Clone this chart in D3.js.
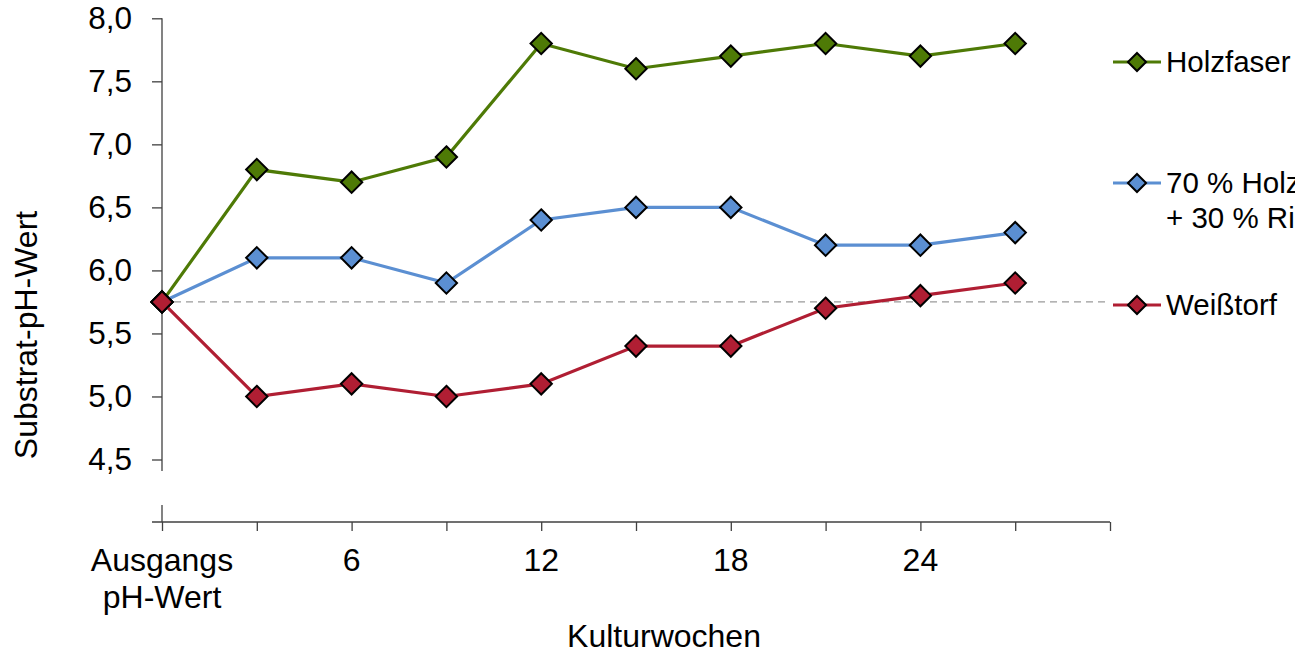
<!DOCTYPE html>
<html lang="de">
<head>
<meta charset="utf-8">
<script src="https://cdn.jsdelivr.net/npm/d3@7"></script>
<style>
  html, body { margin: 0; padding: 0; background: #fff; overflow: hidden; }
  svg { display: block; font-family: "Liberation Sans", Arial, sans-serif; }
</style>
</head>
<body>
<svg id="chart" width="1295" height="653"></svg>
<script>
// Substrate pH over the cultivation weeks
const weeks = [0, 3, 6, 9, 12, 15, 18, 21, 24, 27];
const holzfaser = [5.75, 6.8, 6.7, 6.9, 7.8, 7.6, 7.7, 7.8, 7.7, 7.8];
const mischung = [5.75, 6.1, 6.1, 5.9, 6.4, 6.5, 6.5, 6.2, 6.2, 6.3];
const weisstorf = [5.75, 5.0, 5.1, 5.0, 5.1, 5.4, 5.4, 5.7, 5.8, 5.9];
const startPH = 5.75;

const seriesNames = [["Holzfaser"], ["70 % Holzfaser", "+ 30 % Rindenhumus"], ["Weißtorf"]];
const seriesColors = ["#4e7a06", "#5b8fd2", "#b01e33"];

const yTicks = [4.5, 5.0, 5.5, 6.0, 6.5, 7.0, 7.5, 8.0];
const xTicks = [0, 3, 6, 9, 12, 15, 18, 21, 24, 27, 30];
const xLabelWeeks = [0, 6, 12, 18, 24];
const xLabelTexts = [["Ausgangs", "pH-Wert"], ["6"], ["12"], ["18"], ["24"]];

const series = [holzfaser, mischung, weisstorf].map((vals, i) => ({
  name: seriesNames[i],
  color: seriesColors[i],
  points: vals.map((v, j) => ({ week: weeks[j], value: v }))
}));

const svg = d3.select("#chart");
const axisColor = "#404040";

const x = d3.scaleLinear().domain([0, 30]).range([162, 1110]);
const y = d3.scaleLinear().domain([4.5, 8.0]).range([459.5, 18.3]);
const xAxisY = 522;

// y axis (upper part, with break below 4,5)
const yAxis = d3.axisLeft(y)
  .tickValues(yTicks)
  .tickSize(10)
  .tickPadding(20)
  .tickFormat(d => d3.format(".1f")(d).replace(".", ","));

const gy = svg.append("g").attr("transform", `translate(${x(0)},0)`).call(yAxis);
gy.select(".domain").remove();
gy.selectAll(".tick line").attr("stroke", axisColor).attr("stroke-width", 1.3);
gy.selectAll(".tick text").attr("fill", "#000").style("font-size", "31.5px").style("font-family", "Liberation Sans, Arial, sans-serif");
gy.append("line")
  .attr("x1", 0).attr("x2", 0)
  .attr("y1", y(8.0)).attr("y2", 471)
  .attr("stroke", axisColor).attr("stroke-width", 1.3);
gy.append("line")
  .attr("x1", 0).attr("x2", 0)
  .attr("y1", 505).attr("y2", xAxisY)
  .attr("stroke", axisColor).attr("stroke-width", 1.3);

// x axis
const xAxis = d3.axisBottom(x)
  .tickValues(xTicks)
  .tickSize(9)
  .tickFormat("");

const gx = svg.append("g").attr("transform", `translate(0,${xAxisY})`).call(xAxis);
gx.select(".domain").remove();
gx.selectAll(".tick line").attr("stroke", axisColor).attr("stroke-width", 1.3);
gx.append("line")
  .attr("x1", x(0) - 10).attr("x2", x(30))
  .attr("y1", 0).attr("y2", 0)
  .attr("stroke", axisColor).attr("stroke-width", 1.5);

const xl = svg.append("g").selectAll("text")
  .data(xLabelWeeks.map((w, i) => ({ w, lines: xLabelTexts[i] })))
  .join("text")
  .attr("x", d => x(d.w))
  .attr("y", 571)
  .attr("text-anchor", "middle")
  .style("font-size", "32px")
  .attr("fill", "#000");
xl.selectAll("tspan")
  .data(d => d.lines.map(t => ({ t, x: x(d.w) })))
  .join("tspan")
  .attr("x", d => d.x)
  .attr("dy", (d, i) => i === 0 ? 0 : 37)
  .text(d => d.t);

// axis titles
svg.append("text")
  .attr("x", 664).attr("y", 647)
  .attr("text-anchor", "middle")
  .style("font-size", "32px")
  .attr("fill", "#000")
  .text("Kulturwochen");

svg.append("text")
  .attr("transform", `translate(37,335) rotate(-90)`)
  .attr("text-anchor", "middle")
  .style("font-size", "32px")
  .attr("fill", "#000")
  .text("Substrat-pH-Wert");

// reference line: initial pH
svg.append("line")
  .attr("x1", x(0)).attr("x2", x(30))
  .attr("y1", y(startPH)).attr("y2", y(startPH))
  .attr("stroke", "#9a9a9a")
  .attr("stroke-width", 1.3)
  .attr("stroke-dasharray", "7,5");

// series lines and markers
const line = d3.line().x(d => x(d.week)).y(d => y(d.value));
const diamond = d3.symbol().type(d3.symbolDiamond2).size(290);

const gs = svg.append("g").selectAll("g").data(series).join("g");
gs.append("path")
  .attr("d", d => line(d.points))
  .attr("fill", "none")
  .attr("stroke", d => d.color)
  .attr("stroke-width", 3.2);
gs.selectAll("path.marker")
  .data(d => d.points.map(p => ({ ...p, color: d.color })))
  .join("path")
  .attr("class", "marker")
  .attr("transform", d => `translate(${x(d.week)},${y(d.value)})`)
  .attr("d", diamond)
  .attr("fill", d => d.color)
  .attr("stroke", "#000")
  .attr("stroke-width", 2);

// legend
const legendY = [62, 183, 305];
const lg = svg.append("g").selectAll("g").data(series).join("g")
  .attr("transform", (d, i) => `translate(1113,${legendY[i]})`);
lg.append("line")
  .attr("x1", 0).attr("x2", 48)
  .attr("stroke", d => d.color)
  .attr("stroke-width", 3.2);
lg.append("path")
  .attr("transform", "translate(24,0)")
  .attr("d", d3.symbol().type(d3.symbolDiamond2).size(210))
  .attr("fill", d => d.color)
  .attr("stroke", "#000")
  .attr("stroke-width", 2);
const lt = lg.append("text")
  .attr("x", 53).attr("y", 10)
  .style("font-size", "29.5px")
  .attr("fill", "#000");
lt.selectAll("tspan")
  .data(d => d.name)
  .join("tspan")
  .attr("x", 53)
  .attr("dy", (d, i) => i === 0 ? 0 : 35)
  .text(d => d);
</script>
</body>
</html>
